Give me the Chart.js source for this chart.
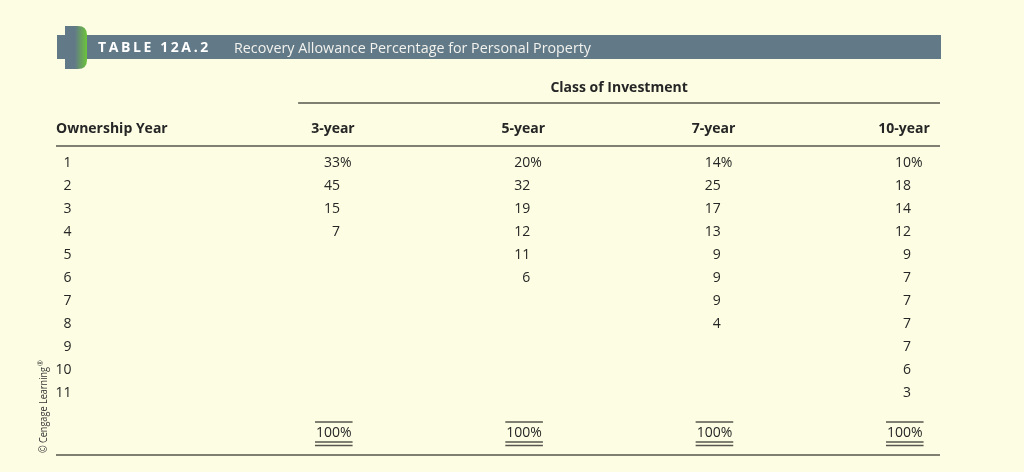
<!DOCTYPE html>
<html>
<head>
<meta charset="utf-8">
<script src="https://cdn.jsdelivr.net/npm/chart.js@4.4.1/dist/chart.umd.min.js"></script>
<style>
  html, body { margin: 0; padding: 0; background: #fdfde3; }
  .wrap { width: 1024px; height: 472px; position: relative; }
</style>
</head>
<body>
<div class="wrap"><canvas id="tableChart"></canvas></div>
<script>
// table contents
const years = [1, 2, 3, 4, 5, 6, 7, 8, 9, 10, 11];
const classes = ['3-year', '5-year', '7-year', '10-year'];
const rate3 = [33, 45, 15, 7];
const rate5 = [20, 32, 19, 12, 11, 6];
const rate7 = [14, 25, 17, 13, 9, 9, 9, 4];
const rate10 = [10, 18, 14, 12, 9, 7, 7, 7, 7, 6, 3];
const totals = [100, 100, 100, 100];

const titleTag = 'TABLE 12A.2';
const titleText = 'Recovery Allowance Percentage for Personal Property';
const groupTitle = 'Class of Investment';
const rowTitle = 'Ownership Year';

// grid positions in scale units
const yearCol = -0.41;
const headerRow = -0.48;
const groupRow = -2.26;
const groupRule = -1.565;
const groupRuleStart = 0.78;
const totalRow = 12.74;

const INK = '#262626';
const RULE = '#55554d';
const BAR = '#627987';
const FONT = '"Open Sans", "Noto Sans", sans-serif';

const columns = [rate3, rate5, rate7, rate10];
const datasets = columns.map((vals, c) => ({
    label: classes[c],
    data: vals.map((v, i) => ({ x: c + 1, y: years[i], v: v, first: i === 0 })),
    pointRadius: 0
}));
datasets.push({
    label: 'Total',
    data: totals.map((v, c) => ({ x: c + 1, y: totalRow, v: v, total: true })),
    pointRadius: 0
});

const tablePlugin = {
    id: 'tablePlugin',
    beforeDraw(chart) {
        const ctx = chart.ctx;
        ctx.save();
        ctx.fillStyle = '#fdfde3';
        ctx.fillRect(0, 0, chart.width, chart.height);

        // title bar
        ctx.fillStyle = BAR;
        ctx.fillRect(57, 35, 884, 24);
        // tab with green edge
        const g = ctx.createLinearGradient(65, 0, 87, 0);
        g.addColorStop(0, BAR);
        g.addColorStop(0.45, BAR);
        g.addColorStop(1, '#6cc43a');
        ctx.fillStyle = g;
        ctx.beginPath();
        ctx.moveTo(65, 26);
        ctx.lineTo(78, 26);
        ctx.quadraticCurveTo(87, 26, 87, 35);
        ctx.lineTo(87, 60);
        ctx.quadraticCurveTo(87, 69, 78, 69);
        ctx.lineTo(65, 69);
        ctx.closePath();
        ctx.fill();

        ctx.fillStyle = '#ffffff';
        ctx.textBaseline = 'alphabetic';
        ctx.textAlign = 'left';
        ctx.font = 'bold 14px ' + FONT;
        ctx.letterSpacing = '2.6px';
        ctx.fillText(titleTag, 98, 52, 118);
        ctx.letterSpacing = '0px';
        ctx.fillStyle = '#f2f2ee';
        ctx.font = '14.5px ' + FONT;
        ctx.fillText(titleText, 234, 53, 357);

        // copyright, rotated
        ctx.save();
        ctx.translate(47, 453);
        ctx.rotate(-Math.PI / 2);
        ctx.fillStyle = '#333333';
        ctx.font = '10.5px ' + FONT;
        ctx.textAlign = 'left';
        ctx.fillText('\u00a9 Cengage Learning', 0, 0, 86);
        ctx.font = '7px ' + FONT;
        ctx.fillText('\u00ae', 87, -4);
        ctx.restore();

        // cut-off note at the very bottom
        ctx.fillStyle = INK;
        ctx.font = '12px ' + FONT;
        ctx.fillText('Note:', 57, 480.5);
        ctx.restore();
    },
    afterDatasetsDraw(chart) {
        const ctx = chart.ctx;
        const xs = chart.scales.x;
        const ys = chart.scales.y;
        const area = chart.chartArea;
        const off = 5;
        ctx.save();

        // rules
        ctx.strokeStyle = RULE;
        ctx.lineWidth = 1.7;
        const rule = (x1, x2, y) => {
            ctx.beginPath();
            ctx.moveTo(x1, y);
            ctx.lineTo(x2, y);
            ctx.stroke();
        };
        rule(xs.getPixelForValue(groupRuleStart), area.right, ys.getPixelForValue(groupRule));
        rule(area.left, area.right, area.top);
        rule(area.left, area.right, area.bottom);

        // headers
        ctx.fillStyle = INK;
        ctx.font = 'bold 14px ' + FONT;
        ctx.textBaseline = 'alphabetic';
        ctx.textAlign = 'center';
        const midX = (xs.getPixelForValue(groupRuleStart) + area.right) / 2;
        ctx.fillText(groupTitle, midX, ys.getPixelForValue(groupRow) + off, 138);
        ctx.textAlign = 'left';
        ctx.fillText(rowTitle, area.left, ys.getPixelForValue(headerRow) + off, 112);
        ctx.textAlign = 'center';
        classes.forEach((c, i) => {
            ctx.fillText(c, xs.getPixelForValue(i + 1 - 0.037), ys.getPixelForValue(headerRow) + off);
        });

        // year labels
        ctx.font = '14px ' + FONT;
        ctx.textAlign = 'right';
        years.forEach(yr => {
            ctx.fillText(String(yr), xs.getPixelForValue(yearCol), ys.getPixelForValue(yr) + off);
        });

        // cells
        chart.data.datasets.forEach((ds, di) => {
            const meta = chart.getDatasetMeta(di);
            meta.data.forEach((el, i) => {
                const p = ds.data[i];
                const x = el.x;
                const y = el.y + off;
                ctx.textAlign = 'right';
                ctx.fillText(String(p.v), x, y);
                if (p.first || p.total) {
                    ctx.textAlign = 'left';
                    ctx.fillText('%', x, y);
                }
                if (p.total) {
                    const l = x - ctx.measureText(String(p.v)).width - 1;
                    const r = x + ctx.measureText('%').width + 1;
                    ctx.lineWidth = 1.5;
                    rule(l, r, el.y - 10);
                    rule(l, r, el.y + 10);
                    rule(l, r, el.y + 13.5);
                }
            });
        });
        ctx.restore();
    }
};

new Chart(document.getElementById('tableChart'), {
    type: 'scatter',
    data: { datasets: datasets },
    options: {
        responsive: true,
        maintainAspectRatio: false,
        animation: false,
        events: [],
        layout: { padding: { left: 56, right: 84, top: 146, bottom: 17 } },
        plugins: { legend: { display: false }, tooltip: { enabled: false } },
        scales: {
            x: { type: 'linear', min: -0.4921, max: 4.1524, display: false },
            y: { type: 'linear', reverse: true, min: 0.3043, max: 13.7391, display: false }
        }
    },
    plugins: [tablePlugin]
});
</script>
</body>
</html>
